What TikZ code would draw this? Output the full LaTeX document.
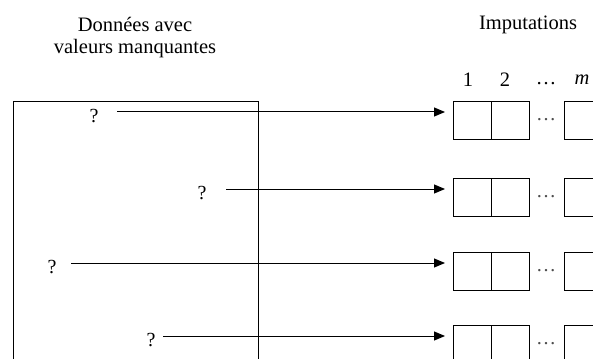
\documentclass[tikz,border=0pt]{standalone}
\usepackage{fontspec}
\setmainfont{Liberation Serif}
\usetikzlibrary{arrows.meta}
\begin{document}
\begin{tikzpicture}[x=1pt,y=-1pt,
  txt/.style={font=\fontsize{20.5}{22}\selectfont, inner sep=0pt},
  qm/.style={font=\fontsize{20}{22}\selectfont, inner sep=0pt},
  cell/.style={draw, line width=0.9pt, minimum width=37.5pt, minimum height=38pt, inner sep=0pt, anchor=north west},
  arr/.style={line width=1pt, shorten >=8pt, -{Triangle[length=11pt,width=9pt]}},
  dots/.style={font=\fontsize{20}{22}\selectfont, inner sep=0pt, text=black!70}]
\path[use as bounding box] (0,0) rectangle (593,358);
\clip (0,0) rectangle (593,358);
% headings
\node[txt, align=center] (head1) at (135,38) {Données avec\\valeurs manquantes};
\node[txt] (head2) at (528,25) {Imputations};
\node[txt] (n1) at (468,80) {1};
\node[txt] (n2) at (505,80) {2};
\node[txt] (n3) at (546,84) {\dots};
\node[txt] (nm) at (582,80) {\itshape m};
% data rectangle
\draw[line width=0.9pt] (13,380) -- (13,101) -- (258,101) -- (258,380);
% rows
\foreach \i/\top/\qx/\lx in {1/101/94/117, 2/178/202/226, 3/252/52/71, 4/325/151/163}{
  \node[qm] (q\i) at (\qx,\top+15) {?};
  \coordinate (s\i) at (\lx,\top+11);
  \node[cell] (a\i) at (453,\top) {};
  \node[cell] (b\i) at (a\i.north east) {};
  \node[cell] (c\i) at (564,\top) {};
  \node[dots] (d\i) at (546,\top+19) {\dots};
  \draw[arr] (s\i) -- (s\i -| a\i.west);
}
\end{tikzpicture}
\end{document}
